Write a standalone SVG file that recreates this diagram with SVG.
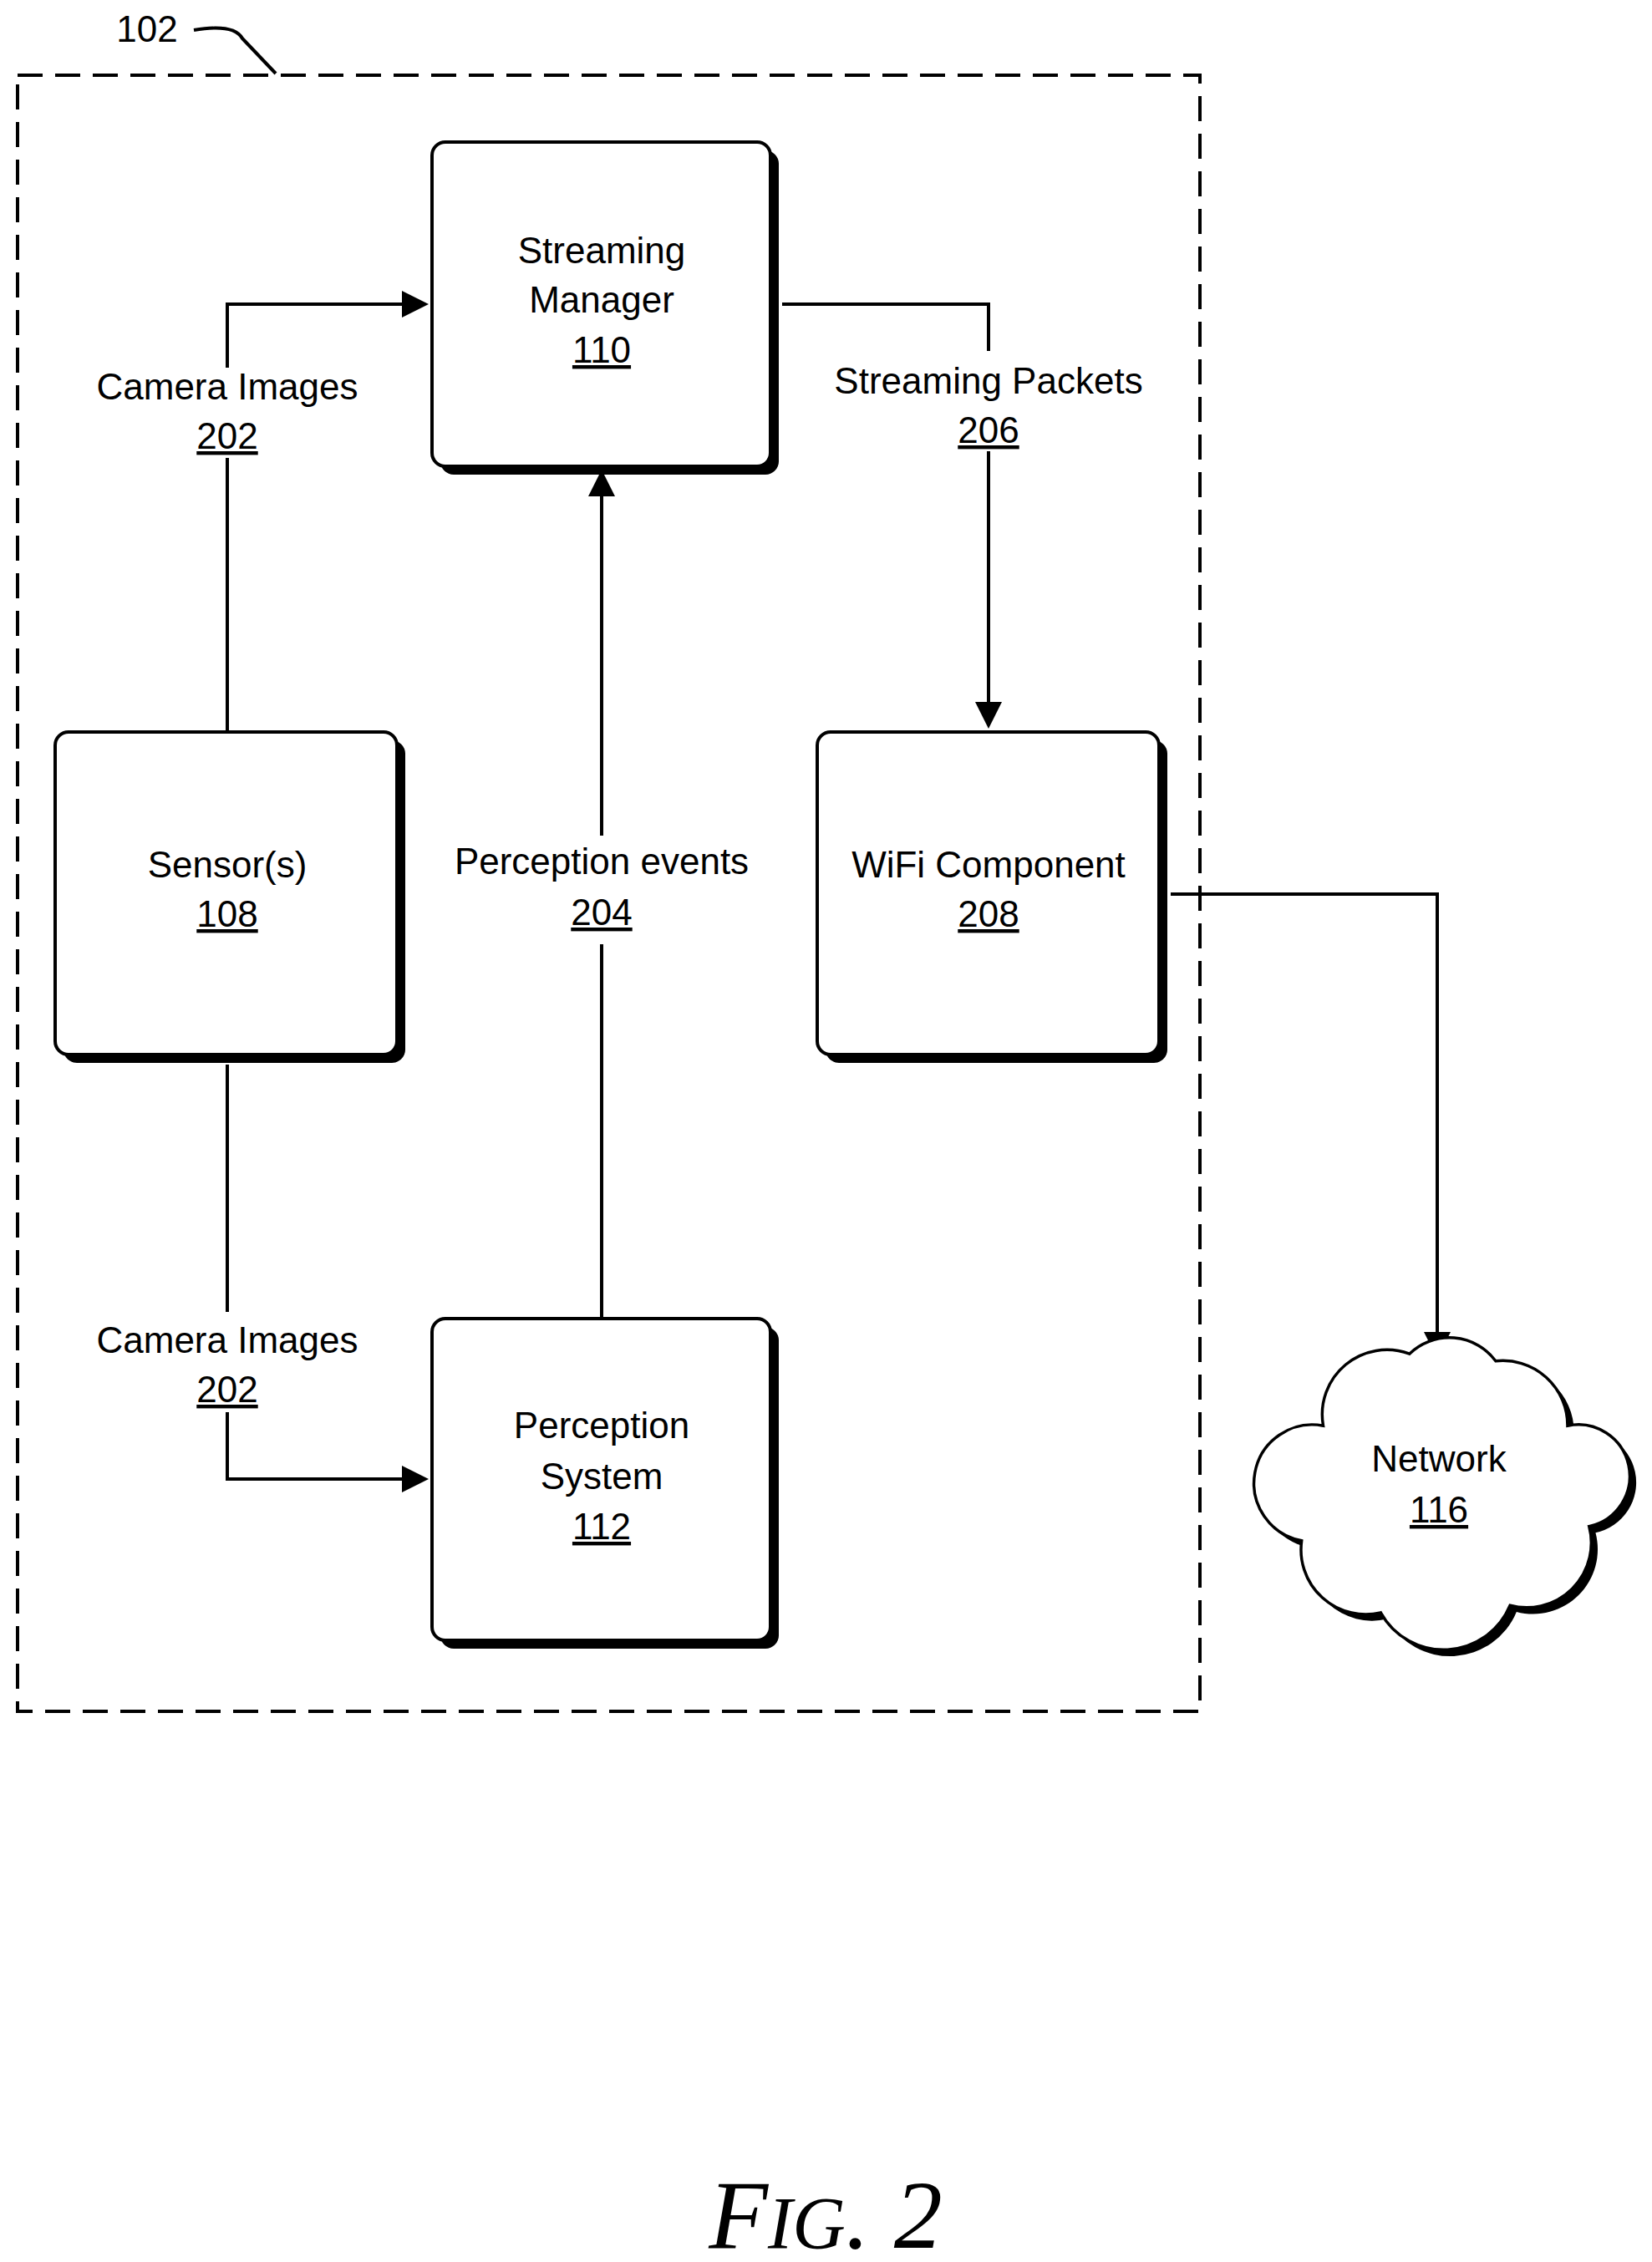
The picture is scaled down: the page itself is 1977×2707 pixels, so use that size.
<svg xmlns="http://www.w3.org/2000/svg" width="1977" height="2707" viewBox="0 0 1977 2707">
<style>
.t{font-family:"Liberation Sans",Arial,sans-serif;font-size:44px;fill:#000;text-anchor:middle}
.u{text-decoration:underline}
.box{fill:#fff;stroke:#000;stroke-width:4}
.sh{fill:#000}
.ln{fill:none;stroke:#000;stroke-width:4}
</style>
<defs>
<marker id="a" markerWidth="8" markerHeight="8" refX="7" refY="4" orient="auto" markerUnits="strokeWidth"><path d="M0,0 L8,4 L0,8 Z" fill="#000"/></marker>
</defs>
<rect x="21" y="90" width="1415" height="1958" fill="none" stroke="#000" stroke-width="4" stroke-dasharray="30,15"/>
<text class="t" x="176" y="50">102</text>
<path class="ln" d="M232,36 Q280,28 290,46 L330,88"/>
<g id="connectors">
<path class="ln" d="M272,876 V548 M272,440 V364 H509" marker-end="url(#a)"/>
<path class="ln" d="M936,364 H1183 V420 M1183,540 V868" marker-end="url(#a)"/>
<path class="ln" d="M720,1578 V1130 M720,1000 V566" marker-end="url(#a)"/>
<path class="ln" d="M272,1274 V1570 M272,1690 V1770 H509" marker-end="url(#a)"/>
<path class="ln" d="M1401,1070 H1720 V1622" marker-end="url(#a)"/>
<text class="t" x="272" y="478">Camera Images</text><text class="t u" x="272" y="537">202</text>
<text class="t" x="1183" y="471">Streaming Packets</text><text class="t u" x="1183" y="530">206</text>
<text class="t" x="720" y="1046">Perception events</text><text class="t u" x="720" y="1107">204</text>
<text class="t" x="272" y="1619">Camera Images</text><text class="t u" x="272" y="1678">202</text>
</g>
<g id="n110"><rect class="sh" x="527" y="180" width="405" height="388" rx="16"/><rect class="box" x="517" y="170" width="405" height="388" rx="16"/>
<text class="t" x="720" y="315">Streaming</text><text class="t" x="720" y="374">Manager</text><text class="t u" x="720" y="434">110</text></g>
<g id="n108"><rect class="sh" x="76" y="886" width="409" height="386" rx="16"/><rect class="box" x="66" y="876" width="409" height="386" rx="16"/>
<text class="t" x="272" y="1050">Sensor(s)</text><text class="t u" x="272" y="1109">108</text></g>
<g id="n208"><rect class="sh" x="988" y="886" width="409" height="386" rx="16"/><rect class="box" x="978" y="876" width="409" height="386" rx="16"/>
<text class="t" x="1183" y="1050">WiFi Component</text><text class="t u" x="1183" y="1109">208</text></g>
<g id="n112"><rect class="sh" x="527" y="1588" width="405" height="385" rx="16"/><rect class="box" x="517" y="1578" width="405" height="385" rx="16"/>
<text class="t" x="720" y="1721">Perception</text><text class="t" x="720" y="1782">System</text><text class="t u" x="720" y="1842">112</text></g>
<g id="n116">
<g transform="translate(1728,1775) scale(0.86) translate(-1728,-1780)">
<path class="sh" transform="translate(9,9)" d="M1560,1700 A90,90 0 0 1 1680,1600 A80,80 0 0 1 1800,1610 A90,90 0 0 1 1900,1700 A70,70 0 0 1 1930,1840 A90,90 0 0 1 1820,1950 A100,100 0 0 1 1640,1960 A90,90 0 0 1 1530,1860 A70,70 0 0 1 1560,1700 Z"/>
<path class="box" d="M1560,1700 A90,90 0 0 1 1680,1600 A80,80 0 0 1 1800,1610 A90,90 0 0 1 1900,1700 A70,70 0 0 1 1930,1840 A90,90 0 0 1 1820,1950 A100,100 0 0 1 1640,1960 A90,90 0 0 1 1530,1860 A70,70 0 0 1 1560,1700 Z"/>
</g>
<text class="t" x="1722" y="1761">Network</text><text class="t u" x="1722" y="1822">116</text></g>
<text x="988" y="2690" font-family="Liberation Serif,serif" font-style="italic" font-size="116" text-anchor="middle">F<tspan font-size="88">IG</tspan>. 2</text>
</svg>
